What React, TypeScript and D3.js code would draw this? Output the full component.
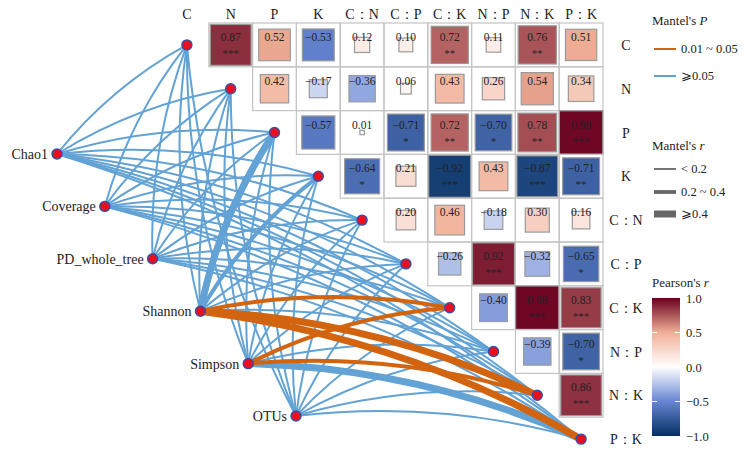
import React from 'react';
import * as d3 from 'd3';

// ---------- data ----------
const envVars = ['C', 'N', 'P', 'K', 'C：N', 'C：P', 'C：K', 'N：P', 'N：K', 'P：K'];

// Pearson's r, upper triangle (row i, columns i+1 ..)
const pearsonR: number[][] = [
  [0.87, 0.52, -0.53, 0.12, 0.10, 0.72, 0.11, 0.76, 0.51],
  [0.42, -0.17, -0.36, 0.06, 0.43, 0.26, 0.54, 0.34],
  [-0.57, 0.01, -0.71, 0.72, -0.70, 0.78, 0.98],
  [-0.64, 0.21, -0.92, 0.43, -0.87, -0.71],
  [0.20, 0.46, -0.18, 0.30, 0.16],
  [-0.26, 0.92, -0.32, -0.65],
  [-0.40, 0.98, 0.83],
  [-0.39, -0.70],
  [0.86],
];
const pearsonSig: string[][] = [
  ['***', '', '', '', '', '**', '', '**', ''],
  ['', '', '', '', '', '', '', ''],
  ['', '', '*', '**', '*', '**', '***'],
  ['*', '', '***', '', '***', '**'],
  ['', '', '', '', ''],
  ['', '***', '', '*'],
  ['', '***', '***'],
  ['', '*'],
  ['***'],
];

const speciesVars = ['Chao1', 'Coverage', 'PD_whole_tree', 'Shannon', 'Simpson', 'OTUs'];
// Mantel's r for each species index vs env variable (C .. P:K)
const mantelR: number[][] = [
  [0.12, 0.09, 0.14, 0.11, 0.07, 0.10, 0.13, 0.08, 0.12, 0.15],
  [0.10, 0.13, 0.09, 0.12, 0.06, 0.11, 0.14, 0.09, 0.10, 0.13],
  [0.08, 0.11, 0.13, 0.10, 0.09, 0.07, 0.12, 0.11, 0.09, 0.12],
  [0.13, 0.15, 0.47, 0.28, 0.10, 0.09, 0.31, 0.12, 0.49, 0.46],
  [0.09, 0.12, 0.14, 0.11, 0.08, 0.10, 0.29, 0.13, 0.26, 0.44],
  [0.11, 0.08, 0.12, 0.13, 0.10, 0.09, 0.11, 0.12, 0.14, 0.13],
];
// Mantel's p
const mantelP: number[][] = [
  [0.42, 0.55, 0.31, 0.38, 0.71, 0.49, 0.36, 0.62, 0.44, 0.29],
  [0.47, 0.33, 0.58, 0.41, 0.77, 0.45, 0.30, 0.56, 0.50, 0.35],
  [0.61, 0.39, 0.34, 0.48, 0.52, 0.68, 0.37, 0.43, 0.57, 0.40],
  [0.28, 0.21, 0.06, 0.09, 0.46, 0.53, 0.03, 0.32, 0.02, 0.02],
  [0.51, 0.36, 0.27, 0.44, 0.63, 0.48, 0.04, 0.39, 0.04, 0.07],
  [0.39, 0.58, 0.35, 0.31, 0.49, 0.54, 0.42, 0.37, 0.30, 0.33],
];

const pearsonTicks = [1.0, 0.5, 0.0, -0.5, -1.0];

// ---------- styling ----------
const W = 749;
const H = 450;
const FONT = "'Liberation Serif', 'Times New Roman', Times, 'DejaVu Serif', serif";
const ORANGE = '#D2640F';
const BLUE = '#62A2D4';

const x = d3.scaleBand<string>().domain(envVars).range([165, 603]);
const y = d3.scaleBand<string>().domain(envVars).range([23, 461]);
const cs = x.bandwidth();
const sx = d3.scalePoint<string>().domain(speciesVars).range([57, 296]);
const sy = d3.scalePoint<string>().domain(speciesVars).range([154, 416]);

const color = d3
  .scaleLinear<string>()
  .domain([-1, -0.5, 0, 0.5, 1])
  .range(['#053061', '#6685D2', '#FFFFFF', '#F1AF96', '#67001F']);

const fmt = d3.format('.2f');
const fmt1 = d3.format('.1f');

const widthOf = (r: number) => (r < 0.2 ? 2 : r < 0.4 ? 4 : 7);

const barY = d3.scaleLinear().domain([-1, 1]).range([436, 298]);

export default function App() {
  const cx = (v: string) => (x(v) as number) + cs / 2;
  const cy = (v: string) => (y(v) as number) + cs / 2;

  const edges: { d: string; w: number; c: string; sig: boolean }[] = [];
  speciesVars.forEach((s, si) => {
    envVars.forEach((e, ei) => {
      const r = mantelR[si][ei];
      const p = mantelP[si][ei];
      const x1 = sx(s) as number;
      const y1 = sy(s) as number;
      const x2 = cx(e);
      const y2 = cy(e);
      const dx = x2 - x1;
      const dy = y2 - y1;
      const k = 0.1;
      const qx = (x1 + x2) / 2 + k * dy;
      const qy = (y1 + y2) / 2 - k * dx;
      const path = d3.path();
      path.moveTo(x1, y1);
      path.quadraticCurveTo(qx, qy, x2, y2);
      const sig = p < 0.05;
      edges.push({ d: path.toString(), w: widthOf(r), c: sig ? ORANGE : BLUE, sig });
    });
  });
  edges.sort((a, b) => Number(a.sig) - Number(b.sig));

  const cells: React.ReactNode[] = [];
  pearsonR.forEach((row, i) => {
    row.forEach((r, k) => {
      const j = i + 1 + k;
      const col = envVars[j];
      const rv = envVars[i];
      const x0 = x(col) as number;
      const y0 = y(rv) as number;
      const side = Math.sqrt(Math.abs(r)) * cs;
      const ccx = x0 + cs / 2;
      const ccy = y0 + cs / 2;
      cells.push(
        <g key={`c${i}-${j}`}>
          <rect x={x0} y={y0} width={cs} height={cs} fill="none" stroke="#C4C4C4" strokeWidth={1.2} />
          <rect
            x={ccx - side / 2}
            y={ccy - side / 2}
            width={side}
            height={side}
            fill={color(r)}
            stroke="#9A9A9A"
            strokeWidth={1.2}
          />
          <text x={ccx} y={ccy - 4} textAnchor="middle" fontSize={11.5} fill="#222">
            {fmt(r)}
          </text>
          {pearsonSig[i][k] ? (
            <text x={ccx} y={ccy + 12} textAnchor="middle" fontSize={11} fill="#222">
              {pearsonSig[i][k]}
            </text>
          ) : null}
        </g>
      );
    });
  });

  const gradStops = d3.range(0, 1.0001, 0.05).map((t) => ({ t, c: color(-1 + 2 * t) }));

  return (
    <svg
      width={W}
      height={H}
      style={{ position: 'absolute', left: 0, top: 0, background: '#fff', fontFamily: FONT }}
    >
      <defs>
        <linearGradient id="pg" x1="0" y1="1" x2="0" y2="0">
          {gradStops.map((s, i) => (
            <stop key={i} offset={s.t} stopColor={s.c} />
          ))}
        </linearGradient>
      </defs>
      <rect width={W} height={H} fill="#fff" />

      {/* column labels */}
      {envVars.map((v) => (
        <text key={`t${v}`} x={cx(v)} y={19} textAnchor="middle" fontSize={14} fill="#222">
          {v}
        </text>
      ))}
      {/* row labels */}
      {envVars.map((v) => (
        <text key={`r${v}`} x={626} y={cy(v) + 5} textAnchor="middle" fontSize={14} fill="#222">
          {v}
        </text>
      ))}

      {cells}

      {/* mantel edges */}
      {edges.map((e, i) => (
        <path key={`e${i}`} d={e.d} fill="none" stroke={e.c} strokeWidth={e.w} />
      ))}

      {/* nodes */}
      {envVars.map((v) => (
        <circle key={`n${v}`} cx={cx(v)} cy={cy(v)} r={5} fill="#E8101E" stroke="#3550A8" strokeWidth={1.4} />
      ))}
      {speciesVars.map((s) => (
        <g key={`s${s}`}>
          <circle cx={sx(s) as number} cy={sy(s) as number} r={5} fill="#E8101E" stroke="#3550A8" strokeWidth={1.4} />
          <text x={(sx(s) as number) - 9} y={(sy(s) as number) + 5} textAnchor="end" fontSize={14} fill="#222">
            {s}
          </text>
        </g>
      ))}

      {/* legend: Mantel's P */}
      <text x={652} y={25} fontSize={13} fill="#222">
        Mantel's <tspan fontStyle="italic">P</tspan>
      </text>
      <line x1={654} x2={676} y1={49} y2={49} stroke={ORANGE} strokeWidth={2} />
      <text x={681} y={53} fontSize={12.5} fill="#222">0.01 ~ 0.05</text>
      <line x1={654} x2={676} y1={76} y2={76} stroke={BLUE} strokeWidth={2} />
      <text x={681} y={80} fontSize={12.5} fill="#222">⩾0.05</text>

      {/* legend: Mantel's r */}
      <text x={652} y={150} fontSize={13} fill="#222">
        Mantel's <tspan fontStyle="italic">r</tspan>
      </text>
      <line x1={654} x2={676} y1={169} y2={169} stroke="#666" strokeWidth={1.8} />
      <text x={681} y={173} fontSize={12.5} fill="#222">{'< 0.2'}</text>
      <line x1={654} x2={676} y1={192} y2={192} stroke="#666" strokeWidth={3.8} />
      <text x={681} y={196} fontSize={12.5} fill="#222">0.2 ~ 0.4</text>
      <line x1={654} x2={676} y1={214} y2={214} stroke="#666" strokeWidth={7} />
      <text x={681} y={218} fontSize={12.5} fill="#222">⩾0.4</text>

      {/* legend: Pearson's r */}
      <text x={652} y={287} fontSize={13} fill="#222">
        Pearson's <tspan fontStyle="italic">r</tspan>
      </text>
      <rect x={652} y={298} width={28} height={138} fill="url(#pg)" />
      {pearsonTicks.map((t) => (
        <g key={`pt${t}`}>
          {t > -1 && t < 1 ? (
            <>
              <line x1={652} x2={657} y1={barY(t)} y2={barY(t)} stroke="#fff" strokeWidth={1} />
              <line x1={675} x2={680} y1={barY(t)} y2={barY(t)} stroke="#fff" strokeWidth={1} />
            </>
          ) : null}
          <text x={686} y={barY(t) + 4.5} fontSize={12.5} fill="#222">
            {fmt1(t)}
          </text>
        </g>
      ))}
    </svg>
  );
}
